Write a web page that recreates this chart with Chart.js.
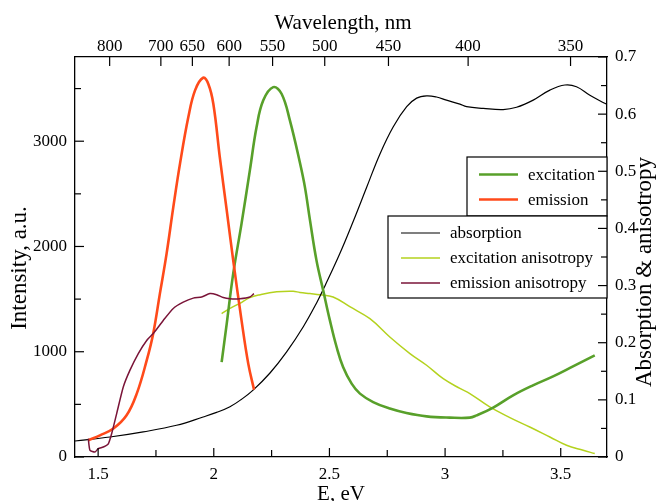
<!DOCTYPE html>
<html><head><meta charset="utf-8">
<script src="https://cdn.jsdelivr.net/npm/chart.js@4.4.1/dist/chart.umd.min.js"></script>
<style>html,body{margin:0;padding:0;background:#fff}</style>
</head><body>
<canvas id="c" width="662" height="501"></canvas>
<script>
// ---------------- data ----------------
const emissionE = [1.457,1.508,1.566,1.623,1.667,1.710,1.738,1.767,1.796,1.825,1.854,1.890,1.919,1.954,1.976,1.998,2.026,2.056,2.084,2.120,2.149,2.174];
const emissionI = [158,206,270,396,602,918,1172,1552,1932,2374,2787,3229,3483,3603,3546,3356,2849,2343,1868,1298,887,640];

const excitationE = [2.034,2.056,2.084,2.120,2.156,2.185,2.214,2.257,2.293,2.329,2.372,2.394,2.416,2.444,2.473,2.502,2.531,2.559,2.596,2.632,2.689,2.761,2.833,2.920,3.020,3.107,3.136,3.208,3.294,3.380,3.467,3.553,3.647];
const excitationI = [902,1267,1742,2217,2723,3134,3388,3514,3451,3198,2800,2564,2248,1868,1583,1298,1045,855,697,602,522,460,418,386,374,374,395,470,586,681,766,861,966];

const absorptionE = [1.400,1.551,1.695,1.839,1.954,2.012,2.070,2.120,2.170,2.243,2.315,2.387,2.445,2.480,2.545,2.603,2.661,2.718,2.776,2.834,2.877,2.920,2.963,3.006,3.064,3.093,3.165,3.251,3.309,3.381,3.453,3.518,3.568,3.626,3.690,3.700];
const absorptionA = [0.028,0.035,0.044,0.0555,0.070,0.078,0.088,0.101,0.117,0.147,0.184,0.228,0.270,0.299,0.356,0.4125,0.472,0.530,0.578,0.613,0.628,0.632,0.630,0.6245,0.6175,0.613,0.610,0.608,0.612,0.6245,0.642,0.651,0.648,0.633,0.619,0.617];

const excAnisE = [2.034,2.070,2.113,2.156,2.200,2.272,2.343,2.372,2.416,2.459,2.516,2.588,2.675,2.761,2.848,2.920,2.992,3.064,3.107,3.193,3.280,3.366,3.453,3.525,3.597,3.647];
const excAnisA = [0.251,0.260,0.269,0.279,0.284,0.289,0.290,0.288,0.286,0.284,0.280,0.263,0.242,0.210,0.181,0.1606,0.137,0.120,0.111,0.0876,0.069,0.0525,0.035,0.0205,0.0117,0.006];

const emAnisE = [1.4575,1.4648,1.4864,1.5007,1.5223,1.5439,1.5586,1.5802,1.6087,1.6377,1.6736,1.7099,1.7384,1.7816,1.8248,1.868,1.9112,1.9475,1.9834,2.0124,2.0409,2.0698,2.1131,2.1563,2.1736];
const emAnisA = [0.032,0.0117,0.0088,0.0147,0.0175,0.023,0.041,0.076,0.1226,0.152,0.181,0.204,0.216,0.239,0.260,0.271,0.278,0.280,0.286,0.284,0.279,0.277,0.277,0.280,0.286];

// ---------------- ticks ----------------
const energyMajor = [1.5,2,2.5,3,3.5];
const energyMinor = [1.75,2.25,2.75,3.25];
const intensityMajor = [0,1000,2000,3000];
const intensityMinor = [500,1500,2500,3500];
const absMajor = [0,0.1,0.2,0.3,0.4,0.5,0.6,0.7];
const absMinor = [0.05,0.15,0.25,0.35,0.45,0.55,0.65];
const wavelengthTicks = [800,700,650,600,550,500,450,400,350];
const HC = 1239.84;

const FONT = '"Liberation Serif","Times New Roman",serif';
const COL = {exc:'#58a02a', em:'#ff4a1a', abs:'#000000', excA:'#b4d21e', emA:'#7a1438'};

const pts = (xs, ys) => xs.map((x,i)=>({x, y: ys[i]}));
const isIn = (arr, v) => arr.some(a => Math.abs(a - v) < 1e-6);
const tickSet = (maj, min) => [...maj, ...min].sort((a,b)=>a-b).map(v=>({value:v}));

const inTicks = {
  id:'inTicks',
  afterDraw(chart){
    const ctx = chart.ctx, a = chart.chartArea, s = chart.scales;
    ctx.save(); ctx.strokeStyle='#000'; ctx.lineWidth=1.2;
    const line=(x1,y1,x2,y2)=>{ctx.beginPath();ctx.moveTo(x1,y1);ctx.lineTo(x2,y2);ctx.stroke();};
    s.x.ticks.forEach(t=>{const p=s.x.getPixelForValue(t.value);const l=isIn(energyMajor,t.value)?9:7;line(p,a.bottom,p,a.bottom-l);});
    s.x2.ticks.forEach(t=>{const p=s.x2.getPixelForValue(t.value);line(p,a.top,p,a.top+9);});
    s.y.ticks.forEach(t=>{const p=s.y.getPixelForValue(t.value);const l=isIn(intensityMajor,t.value)?9:6;line(a.left,p,a.left+l,p);});
    s.y2.ticks.forEach(t=>{const p=s.y2.getPixelForValue(t.value);const l=isIn(absMajor,t.value)?9:6;line(a.right,p,a.right-l,p);});
    // axis titles
    ctx.fillStyle='#000'; ctx.font='21px '+FONT; ctx.textAlign='center'; ctx.textBaseline='middle';
    ctx.fillText('Wavelength, nm', 343, 23);
    ctx.fillText('E, eV', 341, 494);
    ctx.font='23px '+FONT;
    ctx.save(); ctx.translate(20, 268); ctx.rotate(-Math.PI/2); ctx.fillText('Intensity, a.u.', 0, 0); ctx.restore();
    ctx.save(); ctx.translate(645, 272); ctx.rotate(-Math.PI/2); ctx.fillText('Absorption & anisotropy', 0, 0); ctx.restore();
    ctx.restore();
  }
};

const legendBoxes = {
  id:'legendBoxes',
  afterDatasetsDraw(chart){
    const ctx = chart.ctx, a = chart.chartArea;
    const ds = chart.data.datasets;
    const find = l => ds.find(d=>d.label===l);
    const boxes = [
      {x:467, y:157, b:216, lx1:479, lx2:518, tx:528, rows:['excitation','emission'], y0:174.5, dy:25},
      {x:388, y:216, b:298, lx1:401, lx2:440, tx:450, rows:['absorption','excitation anisotropy','emission anisotropy'], y0:233, dy:25}
    ];
    ctx.save();
    boxes.forEach(bx=>{
      ctx.fillStyle='#fff'; ctx.fillRect(bx.x, bx.y, a.right-bx.x, bx.b-bx.y);
      ctx.strokeStyle='#000'; ctx.lineWidth=1.2; ctx.strokeRect(bx.x, bx.y, a.right-bx.x, bx.b-bx.y);
      bx.rows.forEach((r,i)=>{
        const d = find(r), y = bx.y0 + i*bx.dy;
        ctx.strokeStyle=d.borderColor; ctx.lineWidth=d.borderWidth;
        ctx.beginPath(); ctx.moveTo(bx.lx1,y); ctx.lineTo(bx.lx2,y); ctx.stroke();
        ctx.fillStyle='#000'; ctx.font='17px '+FONT; ctx.textAlign='left'; ctx.textBaseline='middle';
        ctx.fillText(r, bx.tx, y+1);
      });
    });
    ctx.restore();
  }
};

const base = {pointRadius:0, fill:false, tension:0.4};
new Chart(document.getElementById('c'), {
  type:'line',
  data:{datasets:[
    {...base, label:'emission', data:pts(emissionE,emissionI), borderColor:COL.em, borderWidth:2.6, yAxisID:'y', xAxisID:'x', order:1},
    {...base, label:'excitation', data:pts(excitationE,excitationI), borderColor:COL.exc, borderWidth:2.6, yAxisID:'y', xAxisID:'x', order:2},
    {...base, label:'absorption', data:pts(absorptionE,absorptionA), borderColor:COL.abs, borderWidth:1.2, yAxisID:'y2', xAxisID:'x', order:3},
    {...base, label:'excitation anisotropy', data:pts(excAnisE,excAnisA), borderColor:COL.excA, borderWidth:1.5, yAxisID:'y2', xAxisID:'x', order:4},
    {...base, tension:0.2, label:'emission anisotropy', data:pts(emAnisE,emAnisA), borderColor:COL.emA, borderWidth:1.5, yAxisID:'y2', xAxisID:'x', order:0}
  ]},
  options:{
    responsive:false, animation:false, devicePixelRatio:1,
    layout:{padding:0},
    plugins:{legend:{display:false}, tooltip:{enabled:false}},
    scales:{
      x:{type:'linear', position:'bottom', min:1.4, max:3.7,
        afterBuildTicks:ax=>{ax.ticks=tickSet(energyMajor,energyMinor);},
        afterFit:sc=>{sc.height=44;},
        grid:{display:false, drawTicks:false}, border:{display:true,color:'#000',width:1.3},
        ticks:{autoSkip:false, maxRotation:0, minRotation:0, padding:7, color:'#000', font:{family:FONT,size:17},
          callback:v=>isIn(energyMajor,v)?String(v):''}},
      x2:{type:'linear', position:'top', min:1.4, max:3.7,
        afterBuildTicks:ax=>{ax.ticks=wavelengthTicks.map(w=>({value:HC/w}));},
        afterFit:sc=>{sc.height=57;},
        grid:{display:false, drawTicks:false}, border:{display:true,color:'#000',width:1.3},
        ticks:{autoSkip:false, maxRotation:0, minRotation:0, padding:0, color:'#000', font:{family:FONT,size:17},
          callback:(v,i)=>String(wavelengthTicks[i])}},
      y:{type:'linear', position:'left', min:0, max:3800,
        afterBuildTicks:ax=>{ax.ticks=tickSet(intensityMajor,intensityMinor);},
        afterFit:sc=>{sc.width=75;},
        grid:{display:false, drawTicks:false}, border:{display:true,color:'#000',width:1.3},
        ticks:{autoSkip:false, padding:8, color:'#000', font:{family:FONT,size:17},
          callback:v=>isIn(intensityMajor,v)?String(v):''}},
      y2:{type:'linear', position:'right', min:0, max:0.7,
        afterBuildTicks:ax=>{ax.ticks=tickSet(absMajor,absMinor);},
        afterFit:sc=>{sc.width=55;},
        grid:{display:false, drawTicks:false}, border:{display:true,color:'#000',width:1.3},
        ticks:{autoSkip:false, padding:8, color:'#000', font:{family:FONT,size:17},
          callback:v=>isIn(absMajor,v)?(v===0?'0':v.toFixed(1)):''}}
    }
  },
  plugins:[inTicks, legendBoxes]
});
</script>
</body></html>
